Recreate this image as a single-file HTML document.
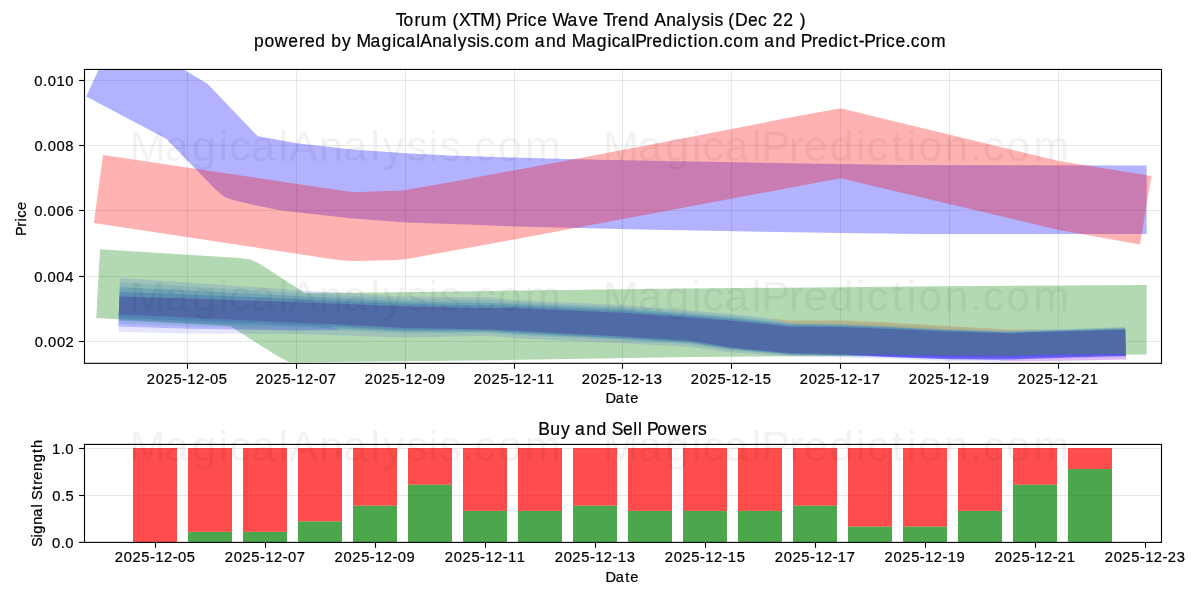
<!DOCTYPE html>
<html><head><meta charset="utf-8"><title>Torum (XTM) Price Wave Trend Analysis</title>
<style>html,body{margin:0;padding:0;background:#fff;}svg{display:block;opacity:0.9999;will-change:transform;}text{font-family:"Liberation Sans",sans-serif;fill:#000;stroke:#000;stroke-width:0.22px;}</style></head><body>
<svg width="1200" height="600" viewBox="0 0 1200 600">
<rect x="0" y="0" width="1200" height="600" fill="#fff"/>
<defs><clipPath id="c1"><rect x="84.5" y="69.45" width="1077.0" height="293.90000000000003"/></clipPath></defs>
<text transform="scale(1,1)" x="395.78 403.62 414.41 420.81 431.87 447.23 452.42 458.88 469.90 480.24 495.49 501.22 505.98 517.10 523.50 527.76 537.21 547.17 552.45 567.50 578.65 588.25 598.21 603.26 612.08 618.02 628.43 638.87 649.13 654.28 666.28 676.00 686.97 691.78 701.18 710.16 714.49 723.09 728.29 735.02 748.02 757.99 767.14 772.65 783.26 793.65 799.73" y="25.8" font-size="17.5">Torum (XTM) Price Wave Trend Analysis (Dec 22 )</text>
<text transform="scale(1,1)" x="254.09 264.38 274.83 288.27 299.06 305.01 315.29 325.55 331.37 341.98 351.29 356.49 370.58 381.50 392.14 396.40 405.17 416.14 420.26 432.25 441.97 452.95 457.76 467.15 476.13 480.47 489.28 494.37 503.76 514.60 529.96 534.87 545.92 556.36 566.61 571.82 585.90 596.83 607.46 611.72 620.49 631.46 635.19 646.31 652.26 662.54 673.18 677.44 687.39 693.51 697.99 708.41 718.73 723.83 733.22 744.05 759.41 764.32 775.37 785.81 796.07 800.83 811.96 817.90 828.18 838.82 843.08 853.03 858.86 864.25 875.38 881.77 886.03 895.48 905.65 910.75 920.14 930.97" y="46.9" font-size="17.5">powered by MagicalAnalysis.com and MagicalPrediction.com and Predict-Price.com</text>
<g stroke="#b0b0b0" stroke-opacity="0.3" stroke-width="1.1"><line x1="187.50" y1="69.45" x2="187.50" y2="363.35"/><line x1="296.50" y1="69.45" x2="296.50" y2="363.35"/><line x1="405.50" y1="69.45" x2="405.50" y2="363.35"/><line x1="514.50" y1="69.45" x2="514.50" y2="363.35"/><line x1="622.50" y1="69.45" x2="622.50" y2="363.35"/><line x1="731.50" y1="69.45" x2="731.50" y2="363.35"/><line x1="840.50" y1="69.45" x2="840.50" y2="363.35"/><line x1="949.50" y1="69.45" x2="949.50" y2="363.35"/><line x1="1058.50" y1="69.45" x2="1058.50" y2="363.35"/><line x1="84.5" y1="80.5" x2="1161.5" y2="80.5"/><line x1="84.5" y1="145.5" x2="1161.5" y2="145.5"/><line x1="84.5" y1="210.5" x2="1161.5" y2="210.5"/><line x1="84.5" y1="276.5" x2="1161.5" y2="276.5"/><line x1="84.5" y1="341.5" x2="1161.5" y2="341.5"/></g>
<g clip-path="url(#c1)">
<polygon points="86.20,96.50 100.30,66.00 177.90,66.00 207.50,83.80 257.50,136.00 296.70,143.30 350.00,149.20 405.80,153.30 450.00,155.60 514.00,157.60 575.00,159.20 650.00,160.80 900.00,164.90 1146.60,165.40 1146.60,233.90 920.00,234.00 840.50,233.00 640.00,229.50 515.00,226.40 480.00,225.00 405.80,222.40 350.00,218.30 296.70,212.20 280.00,210.30 255.00,205.30 233.00,200.00 225.00,197.30 216.00,190.00 166.20,138.80" fill="#0000ff" fill-opacity="0.3"/>
<polygon points="103.00,155.00 346.00,191.20 352.50,191.90 360.00,191.90 402.50,190.60 450.00,182.20 575.00,159.00 650.00,144.70 790.00,117.60 830.00,110.20 836.00,109.00 840.30,108.50 845.00,109.10 850.00,110.40 890.00,120.30 1058.80,161.00 1151.40,176.00 1140.00,244.40 1058.80,230.00 850.00,180.40 845.00,179.10 840.30,178.50 836.00,179.00 830.00,180.20 514.20,239.40 446.70,251.70 405.80,259.20 396.00,260.00 356.00,260.90 346.70,260.80 338.00,260.00 93.80,223.00" fill="#ff0000" fill-opacity="0.3"/>
<polygon points="100.00,249.30 240.00,258.00 250.00,259.60 257.50,262.40 304.50,292.70 380.00,292.50 660.00,288.80 940.00,286.30 1146.70,285.00 1146.70,354.50 790.00,356.30 690.00,357.00 490.00,360.20 405.00,361.30 300.00,362.30 288.70,362.00 277.50,356.00 230.00,326.00 96.30,318.00" fill="#008000" fill-opacity="0.3"/>
<polygon points="120.00,278.00 188.00,282.60 296.70,290.00 405.00,296.50 490.00,297.50 515.00,300.00 622.50,305.00 690.00,310.50 731.70,314.00 790.00,320.80 840.80,320.50 890.00,322.70 949.00,326.30 1008.70,329.80 1058.60,329.20 1125.20,326.90 1126.02,359.60 1058.60,361.00 1008.70,361.80 949.00,361.00 890.00,358.80 840.80,357.50 790.00,356.30 731.70,352.50 690.00,347.00 622.50,343.20 515.00,338.30 490.00,335.80 405.00,337.50 296.70,334.00 188.00,333.50 118.30,331.70" fill="#0000ff" fill-opacity="0.1"/>
<polygon points="119.13,305.50 188.00,308.00 296.70,312.25 340.00,330.00 296.70,330.55 188.00,328.70 118.46,326.54" fill="#0000ff" fill-opacity="0.2"/>
<polygon points="119.85,282.62 188.00,286.58 296.70,293.00 405.00,298.95 490.00,300.20 515.00,302.00 622.50,306.93 690.00,312.25 731.70,315.70 790.00,322.27 840.80,322.12 890.00,324.27 949.00,327.62 1008.70,330.68 1058.60,329.80 1125.22,327.62 1125.96,357.35 1058.60,358.30 1008.70,359.32 949.00,358.84 890.00,357.23 840.80,356.15 790.00,354.95 731.70,350.25 690.00,344.21 622.50,340.23 515.00,334.93 490.00,332.97 405.00,333.23 296.70,328.82 188.00,326.30 118.55,323.96" fill="#50a0b0" fill-opacity="0.27"/>
<polygon points="119.71,287.25 188.00,290.55 296.70,296.00 405.00,301.40 490.00,302.90 515.00,304.00 622.50,308.85 690.00,314.00 731.70,317.40 790.00,323.75 840.80,323.75 890.00,325.85 949.00,328.95 1008.70,331.55 1058.60,330.40 1125.23,328.35 1125.94,356.45 1058.60,357.22 1008.70,358.34 949.00,357.98 890.00,356.60 840.80,355.61 790.00,354.41 731.70,349.35 690.00,343.09 622.50,339.04 515.00,333.57 490.00,331.83 405.00,331.51 296.70,326.75 188.00,323.42 118.64,320.86" fill="#4884b0" fill-opacity="0.38"/>
<polygon points="119.56,291.88 188.00,294.52 296.70,299.00 405.00,303.85 490.00,305.60 515.00,306.00 622.50,310.77 690.00,315.75 731.70,319.10 790.00,325.23 840.80,325.38 890.00,327.43 949.00,330.28 1008.70,332.43 1058.60,331.00 1125.25,329.07 1125.91,355.60 1058.60,356.20 1008.70,357.40 949.00,357.16 890.00,356.00 840.80,355.10 790.00,353.90 731.70,348.50 690.00,342.04 622.50,337.92 515.00,332.30 490.00,330.76 405.00,329.90 296.70,324.80 188.00,320.70 118.74,317.94" fill="#4070ad" fill-opacity="0.42"/>
<polygon points="770.00,318.17 790.00,320.50 840.80,320.20 890.00,322.40 949.00,326.00 1008.70,329.50 1040.00,329.12 1040.00,329.42 1008.70,331.55 949.00,330.01 890.00,327.11 840.80,325.05 790.00,323.75 770.00,318.47" fill="#c8b070" fill-opacity="0.55"/>
<polygon points="119.41,296.50 188.00,298.50 296.70,302.00 405.00,306.30 490.00,308.30 515.00,308.00 622.50,312.70 690.00,317.50 731.70,320.80 790.00,326.70 840.80,327.00 890.00,329.00 949.00,331.60 1008.70,333.30 1058.60,331.60 1125.27,329.80 1125.89,354.60 1058.60,355.00 1008.70,356.30 949.00,356.20 890.00,355.30 840.80,354.50 790.00,353.30 731.70,347.50 690.00,340.80 622.50,336.60 515.00,330.80 490.00,329.50 405.00,328.00 296.70,322.50 188.00,317.50 118.84,314.50" fill="#5067a5" fill-opacity="0.93"/>
<polygon points="850.00,354.05 890.00,354.70 949.00,355.60 1008.70,355.70 1058.60,354.40 1126.00,354.00 1126.00,356.10 1058.60,358.00 1008.70,359.71 949.00,359.18 890.00,356.88 850.00,354.65" fill="#5a46ff" fill-opacity="0.75"/>
<polygon points="1000.00,359.52 1058.60,357.70 1126.00,355.85 1126.00,359.40 1058.60,360.80 1000.00,361.08" fill="#d796f0" fill-opacity="0.55"/>
</g>
<rect x="84.5" y="69.45" width="1077.0" height="293.90000000000003" fill="none" stroke="#000" stroke-width="1.1"/>
<g stroke="#000" stroke-width="1.1"><line x1="187.50" y1="363.35" x2="187.50" y2="368.75"/><line x1="296.50" y1="363.35" x2="296.50" y2="368.75"/><line x1="405.50" y1="363.35" x2="405.50" y2="368.75"/><line x1="514.50" y1="363.35" x2="514.50" y2="368.75"/><line x1="622.50" y1="363.35" x2="622.50" y2="368.75"/><line x1="731.50" y1="363.35" x2="731.50" y2="368.75"/><line x1="840.50" y1="363.35" x2="840.50" y2="368.75"/><line x1="949.50" y1="363.35" x2="949.50" y2="368.75"/><line x1="1058.50" y1="363.35" x2="1058.50" y2="368.75"/><line x1="79.1" y1="80.5" x2="84.5" y2="80.5"/><line x1="79.1" y1="145.5" x2="84.5" y2="145.5"/><line x1="79.1" y1="210.5" x2="84.5" y2="210.5"/><line x1="79.1" y1="276.5" x2="84.5" y2="276.5"/><line x1="79.1" y1="341.5" x2="84.5" y2="341.5"/></g>
<text transform="scale(1,1)" x="146.82 155.84 164.49 173.46 182.09 187.29 196.02 204.77 210.05 218.83" y="384.0" font-size="14.75">2025-12-05</text>
<text transform="scale(1,1)" x="255.81 264.83 273.48 282.45 291.07 296.27 305.00 313.76 319.03 327.84" y="384.0" font-size="14.75">2025-12-07</text>
<text transform="scale(1,1)" x="364.70 373.72 382.37 391.34 399.97 405.17 413.90 422.65 427.93 436.72" y="384.0" font-size="14.75">2025-12-09</text>
<text transform="scale(1,1)" x="473.85 482.87 491.53 500.49 509.12 514.32 523.05 531.81 537.00 545.84" y="384.0" font-size="14.75">2025-12-11</text>
<text transform="scale(1,1)" x="581.77 590.79 599.44 608.41 617.04 622.23 630.96 639.72 644.92 653.85" y="384.0" font-size="14.75">2025-12-13</text>
<text transform="scale(1,1)" x="690.82 699.84 708.49 717.46 726.09 731.29 740.02 748.77 753.97 762.83" y="384.0" font-size="14.75">2025-12-15</text>
<text transform="scale(1,1)" x="799.81 808.83 817.48 826.45 835.07 840.27 849.00 857.76 862.96 871.84" y="384.0" font-size="14.75">2025-12-17</text>
<text transform="scale(1,1)" x="908.70 917.72 926.37 935.34 943.97 949.17 957.90 966.65 971.85 980.72" y="384.0" font-size="14.75">2025-12-19</text>
<text transform="scale(1,1)" x="1017.85 1026.87 1035.53 1044.49 1053.12 1058.32 1067.05 1075.81 1080.90 1089.84" y="384.0" font-size="14.75">2025-12-21</text>
<text transform="scale(1,1)" x="34.37 43.05 47.63 56.39 65.30" y="86.0" font-size="14.75">0.010</text>
<text transform="scale(1,1)" x="34.40 43.08 47.65 56.49 65.33" y="151.0" font-size="14.75">0.008</text>
<text transform="scale(1,1)" x="34.33 43.00 47.58 56.41 65.25" y="216.0" font-size="14.75">0.006</text>
<text transform="scale(1,1)" x="34.23 42.91 47.48 56.32 65.16" y="282.0" font-size="14.75">0.004</text>
<text transform="scale(1,1)" x="34.84 43.52 48.09 56.93 65.58" y="347.0" font-size="14.75">0.002</text>
<text transform="scale(1,1)" x="605.54 615.81 625.30 630.33" y="403.1" font-size="14.6">Date</text>
<text transform="translate(26.3,235.55) rotate(-90) scale(1,1)" x="-0.45 8.82 14.16 17.70 25.58" y="0" font-size="14.6">Price</text>
<g stroke="#b0b0b0" stroke-opacity="0.3" stroke-width="1.1">
<line x1="84.5" y1="448.5" x2="1161.5" y2="448.5"/>
<line x1="84.5" y1="495.5" x2="1161.5" y2="495.5"/>
</g>
<rect x="133.00" y="448.00" width="44" height="94.30" fill="#ff0000" fill-opacity="0.7"/>
<rect x="188.00" y="531.82" width="44" height="10.48" fill="#008000" fill-opacity="0.7"/>
<rect x="188.00" y="448.00" width="44" height="83.82" fill="#ff0000" fill-opacity="0.7"/>
<rect x="243.00" y="531.82" width="44" height="10.48" fill="#008000" fill-opacity="0.7"/>
<rect x="243.00" y="448.00" width="44" height="83.82" fill="#ff0000" fill-opacity="0.7"/>
<rect x="298.00" y="521.34" width="44" height="20.96" fill="#008000" fill-opacity="0.7"/>
<rect x="298.00" y="448.00" width="44" height="73.34" fill="#ff0000" fill-opacity="0.7"/>
<rect x="353.00" y="505.63" width="44" height="36.67" fill="#008000" fill-opacity="0.7"/>
<rect x="353.00" y="448.00" width="44" height="57.63" fill="#ff0000" fill-opacity="0.7"/>
<rect x="408.00" y="484.67" width="44" height="57.63" fill="#008000" fill-opacity="0.7"/>
<rect x="408.00" y="448.00" width="44" height="36.67" fill="#ff0000" fill-opacity="0.7"/>
<rect x="463.00" y="510.87" width="44" height="31.43" fill="#008000" fill-opacity="0.7"/>
<rect x="463.00" y="448.00" width="44" height="62.87" fill="#ff0000" fill-opacity="0.7"/>
<rect x="518.00" y="510.87" width="44" height="31.43" fill="#008000" fill-opacity="0.7"/>
<rect x="518.00" y="448.00" width="44" height="62.87" fill="#ff0000" fill-opacity="0.7"/>
<rect x="573.00" y="505.63" width="44" height="36.67" fill="#008000" fill-opacity="0.7"/>
<rect x="573.00" y="448.00" width="44" height="57.63" fill="#ff0000" fill-opacity="0.7"/>
<rect x="628.00" y="510.87" width="44" height="31.43" fill="#008000" fill-opacity="0.7"/>
<rect x="628.00" y="448.00" width="44" height="62.87" fill="#ff0000" fill-opacity="0.7"/>
<rect x="683.00" y="510.87" width="44" height="31.43" fill="#008000" fill-opacity="0.7"/>
<rect x="683.00" y="448.00" width="44" height="62.87" fill="#ff0000" fill-opacity="0.7"/>
<rect x="738.00" y="510.87" width="44" height="31.43" fill="#008000" fill-opacity="0.7"/>
<rect x="738.00" y="448.00" width="44" height="62.87" fill="#ff0000" fill-opacity="0.7"/>
<rect x="793.00" y="505.63" width="44" height="36.67" fill="#008000" fill-opacity="0.7"/>
<rect x="793.00" y="448.00" width="44" height="57.63" fill="#ff0000" fill-opacity="0.7"/>
<rect x="848.00" y="526.58" width="44" height="15.72" fill="#008000" fill-opacity="0.7"/>
<rect x="848.00" y="448.00" width="44" height="78.58" fill="#ff0000" fill-opacity="0.7"/>
<rect x="903.00" y="526.58" width="44" height="15.72" fill="#008000" fill-opacity="0.7"/>
<rect x="903.00" y="448.00" width="44" height="78.58" fill="#ff0000" fill-opacity="0.7"/>
<rect x="958.00" y="510.87" width="44" height="31.43" fill="#008000" fill-opacity="0.7"/>
<rect x="958.00" y="448.00" width="44" height="62.87" fill="#ff0000" fill-opacity="0.7"/>
<rect x="1013.00" y="484.67" width="44" height="57.63" fill="#008000" fill-opacity="0.7"/>
<rect x="1013.00" y="448.00" width="44" height="36.67" fill="#ff0000" fill-opacity="0.7"/>
<rect x="1068.00" y="468.96" width="44" height="73.34" fill="#008000" fill-opacity="0.7"/>
<rect x="1068.00" y="448.00" width="44" height="20.96" fill="#ff0000" fill-opacity="0.7"/>
<rect x="84.5" y="444.4" width="1077.0" height="98.0" fill="none" stroke="#000" stroke-width="1.1"/>
<text transform="scale(1,1)" x="114.72 123.74 132.39 141.36 149.99 155.19 163.92 172.67 177.95 186.73" y="562.0" font-size="14.75">2025-12-05</text>
<text transform="scale(1,1)" x="224.71 233.73 242.38 251.35 259.97 265.17 273.90 282.66 287.93 296.74" y="562.0" font-size="14.75">2025-12-07</text>
<text transform="scale(1,1)" x="334.60 343.62 352.27 361.24 369.87 375.07 383.80 392.55 397.83 406.62" y="562.0" font-size="14.75">2025-12-09</text>
<text transform="scale(1,1)" x="444.75 453.77 462.43 471.39 480.02 485.22 493.95 502.71 507.90 516.74" y="562.0" font-size="14.75">2025-12-11</text>
<text transform="scale(1,1)" x="554.67 563.69 572.34 581.31 589.94 595.13 603.86 612.62 617.82 626.75" y="562.0" font-size="14.75">2025-12-13</text>
<text transform="scale(1,1)" x="664.72 673.74 682.39 691.36 699.99 705.19 713.92 722.67 727.87 736.73" y="562.0" font-size="14.75">2025-12-15</text>
<text transform="scale(1,1)" x="774.71 783.73 792.38 801.35 809.97 815.17 823.90 832.66 837.86 846.74" y="562.0" font-size="14.75">2025-12-17</text>
<text transform="scale(1,1)" x="884.60 893.62 902.27 911.24 919.87 925.07 933.80 942.55 947.75 956.62" y="562.0" font-size="14.75">2025-12-19</text>
<text transform="scale(1,1)" x="994.75 1003.77 1012.43 1021.39 1030.02 1035.22 1043.95 1052.71 1057.80 1066.74" y="562.0" font-size="14.75">2025-12-21</text>
<text transform="scale(1,1)" x="1104.67 1113.69 1122.34 1131.31 1139.94 1145.13 1153.86 1162.62 1167.71 1176.75" y="562.0" font-size="14.75">2025-12-23</text>
<text transform="scale(1,1)" x="51.97 60.72 65.30" y="453.7" font-size="14.75">1.0</text>
<text transform="scale(1,1)" x="52.34 61.01 65.54" y="500.7" font-size="14.75">0.5</text>
<text transform="scale(1,1)" x="52.05 60.72 65.30" y="547.6" font-size="14.75">0.0</text>
<g stroke="#000" stroke-width="1.1"><line x1="155.50" y1="542.4" x2="155.50" y2="547.8"/><line x1="265.50" y1="542.4" x2="265.50" y2="547.8"/><line x1="375.50" y1="542.4" x2="375.50" y2="547.8"/><line x1="485.50" y1="542.4" x2="485.50" y2="547.8"/><line x1="595.50" y1="542.4" x2="595.50" y2="547.8"/><line x1="705.50" y1="542.4" x2="705.50" y2="547.8"/><line x1="815.50" y1="542.4" x2="815.50" y2="547.8"/><line x1="925.50" y1="542.4" x2="925.50" y2="547.8"/><line x1="1035.50" y1="542.4" x2="1035.50" y2="547.8"/><line x1="1145.50" y1="542.4" x2="1145.50" y2="547.8"/><line x1="79.1" y1="448.5" x2="84.5" y2="448.5"/><line x1="79.1" y1="495.5" x2="84.5" y2="495.5"/><line x1="79.1" y1="542.4" x2="84.5" y2="542.4"/></g>
<text transform="scale(1,1)" x="538.20 550.16 560.90 570.21 575.12 586.17 596.61 606.86 611.71 623.04 633.37 638.00 642.26 647.02 657.25 667.70 681.13 691.93 698.03" y="434.5" font-size="17.5">Buy and Sell Powers</text>
<text transform="scale(1,1)" x="605.54 615.81 625.30 630.33" y="581.8" font-size="14.6">Date</text>
<text transform="translate(41.6,546.65) rotate(-90) scale(1,1)" x="-0.39 9.13 12.94 21.86 29.97 39.11 42.66 46.69 56.55 62.03 66.99 75.66 84.36 93.57 98.71" y="0" font-size="14.6">Signal Strength</text>
<text transform="scale(1,1)" x="129.60 164.76 192.05 218.55 229.28 251.22 278.55 288.97 318.92 343.24 370.57 382.68 406.16 428.53 439.45 461.41 474.22 497.71 524.87 563.04 602.77 637.92 665.21 691.72 702.45 724.39 751.72 761.16 788.89 803.80 829.50 856.01 866.74 891.54 906.83 918.14 944.17 969.90 982.70 1006.19 1033.35" y="161.4" font-size="43.2" style="fill:#000;fill-opacity:0.05;stroke:none">MagicalAnalysis.com MagicalPrediction.com</text>
<text transform="scale(1,1)" x="129.60 164.76 192.05 218.55 229.28 251.22 278.55 288.97 318.92 343.24 370.57 382.68 406.16 428.53 439.45 461.41 474.22 497.71 524.87 563.04 602.77 637.92 665.21 691.72 702.45 724.39 751.72 761.16 788.89 803.80 829.50 856.01 866.74 891.54 906.83 918.14 944.17 969.90 982.70 1006.19 1033.35" y="311.3" font-size="43.2" style="fill:#000;fill-opacity:0.05;stroke:none">MagicalAnalysis.com MagicalPrediction.com</text>
<text transform="scale(1,1)" x="129.60 164.76 192.05 218.55 229.28 251.22 278.55 288.97 318.92 343.24 370.57 382.68 406.16 428.53 439.45 461.41 474.22 497.71 524.87 563.04 602.77 637.92 665.21 691.72 702.45 724.39 751.72 761.16 788.89 803.80 829.50 856.01 866.74 891.54 906.83 918.14 944.17 969.90 982.70 1006.19 1033.35" y="461.1" font-size="43.2" style="fill:#000;fill-opacity:0.05;stroke:none">MagicalAnalysis.com MagicalPrediction.com</text>
</svg></body></html>
